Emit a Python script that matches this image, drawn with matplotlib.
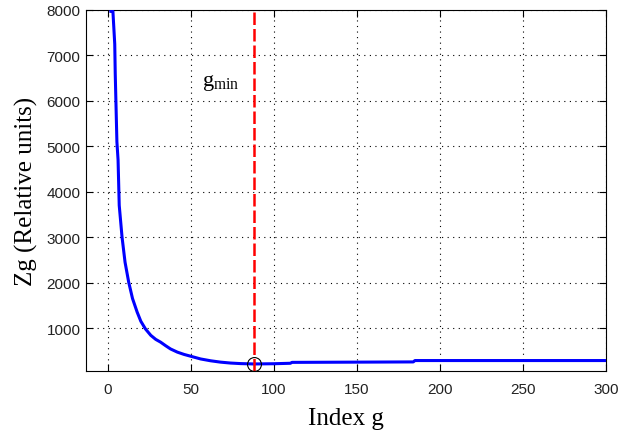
import numpy as np
import matplotlib
matplotlib.use("Agg")
import matplotlib.pyplot as plt

plt.rcParams['mathtext.fontset'] = 'custom'
plt.rcParams['mathtext.rm'] = 'Liberation Serif'

# curve (index g, Zg)
g_idx = [2, 3.2, 4.3, 4.6, 5.0, 5.6, 6.3, 7.0, 8.7, 10.5, 12.7, 15, 17.8, 20, 22.8,
         26, 29, 31.9, 35, 37.9, 42, 46, 50, 56, 62, 68, 74, 80, 88, 100, 110, 111,
         150, 184, 185, 250, 300]
zg = [7970, 7970, 7250, 6600, 6000, 5100, 4700, 3700, 3000, 2450, 2010, 1650, 1350, 1150, 980,
      840, 750, 690, 610, 540, 470, 420, 380, 320, 280, 250, 230, 218, 210, 215, 225, 245,
      250, 255, 285, 285, 285]

g_min = 88
zg_min = 210

xticks = [0, 50, 100, 150, 200, 250, 300]
yticks = [1000, 2000, 3000, 4000, 5000, 6000, 7000, 8000]

fig = plt.figure(figsize=(6.2, 4.35), dpi=100)
ax = fig.add_axes([86 / 620, 1 - 372 / 435, 520 / 620, 361 / 435])

ax.plot(g_idx, zg, color='#0000ff', lw=2.2, zorder=3)
ax.axvline(g_min, color='#ff0000', lw=1.8, linestyle=(0, (5, 1.6)), zorder=4)
ax.plot([g_min], [zg_min], 'o', mfc='none', mec='black', ms=10, mew=0.8, zorder=5)

ax.text(57, 6350, r'g$_{\rm min}$', fontsize=16, family='Liberation Serif',
        ha='left', va='baseline')

ax.set_xlim(-13, 300)
ax.set_ylim(55, 8000)
ax.set_xticks(xticks)
ax.set_yticks(yticks)
ax.grid(True, color='black', linestyle=(0, (1, 4)), lw=0.8)

ax.tick_params(direction='in', length=5, top=True, right=True, labelsize=11)
for lab in ax.get_xticklabels() + ax.get_yticklabels():
    lab.set_family('Liberation Sans')
    lab.set_color('#222222')
ax.tick_params(axis='x', pad=8)
ax.tick_params(axis='y', pad=4)

ax.set_xlabel('Index g', fontsize=18, family='Liberation Serif', labelpad=8)
ax.set_ylabel('Zg (Relative units)', fontsize=18, family='Liberation Serif', labelpad=6)

fig.savefig('out.png', dpi=100)
